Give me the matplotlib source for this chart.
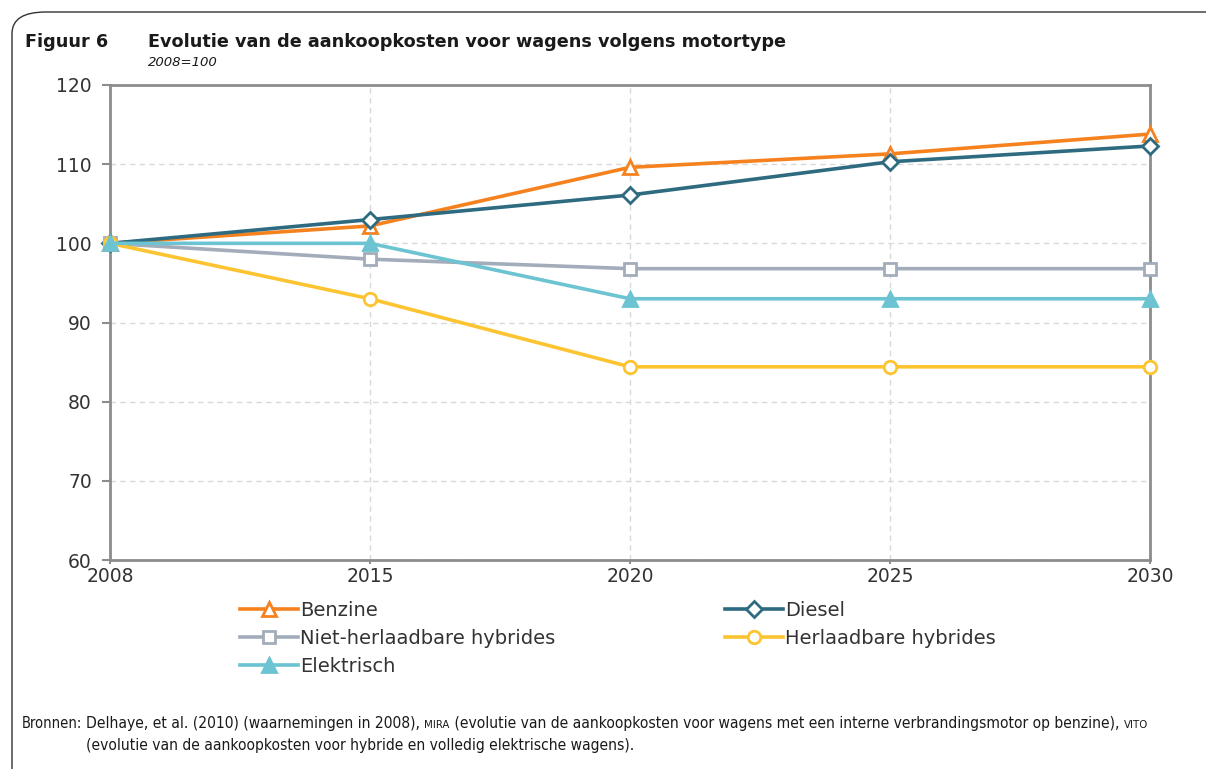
import matplotlib.pyplot as plt
from matplotlib.patches import FancyBboxPatch

plt.rcParams['font.family'] = ['DejaVu Sans']

# data, 2008 = 100
years = ['2008', '2015', '2020', '2025', '2030']
benzine = [100, 102.2, 109.6, 111.3, 113.8]
diesel = [100, 103.0, 106.1, 110.3, 112.3]
niet_herlaadbaar = [100, 98.0, 96.8, 96.8, 96.8]
herlaadbaar = [100, 93.0, 84.4, 84.4, 84.4]
elektrisch = [100, 100, 93.0, 93.0, 93.0]
yticks = [60, 70, 80, 90, 100, 110, 120]

names = ['Benzine', 'Diesel', 'Niet-herlaadbare hybrides', 'Herlaadbare hybrides', 'Elektrisch']
colors = ['#F5821F', '#2E6B80', '#A3ACBA', '#FDC431', '#6CC3D1']
markers = ['^', 'D', 's', 'o', '^']
msizes = [10, 8.5, 9, 9, 10]
filled = [False, False, False, False, True]
series = [benzine, diesel, niet_herlaadbaar, herlaadbaar, elektrisch]

fig = plt.figure(figsize=(12.06, 7.69), dpi=100)

# rounded frame round the figure
frame = FancyBboxPatch((12 / 1206, -20 / 769), 1.2, (769 - 12 + 20) / 769,
                       boxstyle='round,pad=0,rounding_size=0.028',
                       transform=fig.transFigure, fill=False,
                       edgecolor='#333333', linewidth=1.0)
fig.patches.append(frame)

fig.text(25 / 1206, 1 - 42 / 769, 'Figuur 6', fontsize=12.7, fontweight='bold',
         color='#1a1a1a', va='center')
fig.text(148 / 1206, 1 - 42 / 769,
         'Evolutie van de aankoopkosten voor wagens volgens motortype',
         fontsize=12.7, fontweight='bold', color='#1a1a1a', va='center')
fig.text(148 / 1206, 1 - 63 / 769, '2008=100', fontsize=9.5, style='italic',
         color='#1a1a1a', va='center')

ax = fig.add_axes([110 / 1206, 209 / 769, 1040 / 1206, 475 / 769])
x = list(range(len(years)))
for vals, name, c, m, ms, f in zip(series, names, colors, markers, msizes, filled):
    ax.plot(x, vals, color=c, linewidth=2.6, marker=m, markersize=ms,
            markerfacecolor=c if f else 'white', markeredgecolor=c,
            markeredgewidth=2, label=name, clip_on=False, zorder=3)

ax.set_xlim(0, len(years) - 1)
ax.set_ylim(60, 120)
ax.set_xticks(x)
ax.set_xticklabels(years)
ax.set_yticks(yticks)
ax.grid(True, color='#d9d9d9', linestyle=(0, (4, 3)), linewidth=1)
for s in ax.spines.values():
    s.set_color('#8c8c8c')
    s.set_linewidth(2)
ax.tick_params(axis='y', length=6, width=1.5, color='#8c8c8c', labelsize=13.5,
               labelcolor='#333333', pad=7)
ax.tick_params(axis='x', length=3, width=1.5, color='#8c8c8c', labelsize=13.5,
               labelcolor='#333333', pad=2)

handles, labels = ax.get_legend_handles_labels()
order = [0, 2, 4, 1, 3]
leg = fig.legend([handles[i] for i in order], [labels[i] for i in order],
                 loc='upper left', bbox_to_anchor=(240 / 1206, 1 - 601 / 769),
                 ncol=2, frameon=False, fontsize=14, handlelength=3.0,
                 handletextpad=0.1, columnspacing=8.7, labelspacing=0.45,
                 borderaxespad=0, borderpad=0)
for t in leg.get_texts():
    t.set_color('#333333')

# sources, with small caps for MIRA and VITO
fig.canvas.draw()
renderer = fig.canvas.get_renderer()
y1 = 1 - 728 / 769
y2 = 1 - 750 / 769
src = dict(color='#1a1a1a', va='baseline', fontstretch='condensed')
fig.text(22 / 1206, y1, 'Bronnen:', fontsize=10.5, **src)
parts = [('Delhaye, et al. (2010) (waarnemingen in 2008), ', 11.2),
         ('MIRA', 8.2),
         (' (evolutie van de aankoopkosten voor wagens met een interne verbrandingsmotor op benzine), ', 11.2),
         ('VITO', 8.2)]
xpos = 86 / 1206
for txt, fs in parts:
    t = fig.text(xpos, y1, txt, fontsize=fs, **src)
    bb = t.get_window_extent(renderer)
    xpos = bb.x1 / fig.bbox.width
fig.text(86 / 1206, y2, '(evolutie van de aankoopkosten voor hybride en volledig elektrische wagens).',
         fontsize=11.2, **src)

plt.savefig('out.png', dpi=100)
